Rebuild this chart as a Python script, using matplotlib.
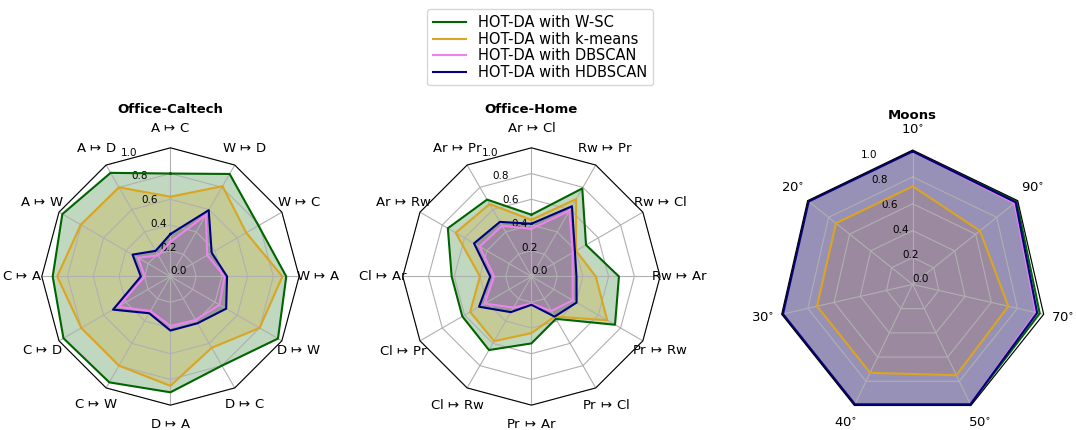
import numpy as np
import matplotlib
matplotlib.use('Agg')
import matplotlib.pyplot as plt
from matplotlib.patches import RegularPolygon
from matplotlib.path import Path
from matplotlib.projections import register_projection
from matplotlib.projections.polar import PolarAxes
from matplotlib.spines import Spine
from matplotlib.transforms import Affine2D

# --- data ---
methods = ['HOT-DA with W-SC', 'HOT-DA with k-means', 'HOT-DA with DBSCAN', 'HOT-DA with HDBSCAN']
colors = ['darkgreen', 'goldenrod', 'violet', 'navy']

M = '$\\,\\mapsto\\,$'
oc_labels = ['A' + M + 'C', 'A' + M + 'D', 'A' + M + 'W', 'C' + M + 'A', 'C' + M + 'D', 'C' + M + 'W',
             'D' + M + 'A', 'D' + M + 'C', 'D' + M + 'W', 'W' + M + 'A', 'W' + M + 'C', 'W' + M + 'D']
oc_wsc = [0.80, 0.93, 0.97, 0.915, 0.96, 0.95, 0.90, 0.80, 0.965, 0.90, 0.79, 0.92]
oc_kmeans = [0.62, 0.80, 0.805, 0.88, 0.80, 0.80, 0.85, 0.64, 0.80, 0.87, 0.68, 0.81]
oc_dbscan = [0.27, 0.19, 0.29, 0.20, 0.47, 0.31, 0.385, 0.39, 0.44, 0.42, 0.33, 0.55]
oc_hdbscan = [0.33, 0.23, 0.34, 0.23, 0.515, 0.33, 0.42, 0.42, 0.50, 0.44, 0.37, 0.595]

oh_labels = ['Ar' + M + 'Cl', 'Ar' + M + 'Pr', 'Ar' + M + 'Rw', 'Cl' + M + 'Ar', 'Cl' + M + 'Pr', 'Cl' + M + 'Rw',
             'Pr' + M + 'Ar', 'Pr' + M + 'Cl', 'Pr' + M + 'Rw', 'Rw' + M + 'Ar', 'Rw' + M + 'Cl', 'Rw' + M + 'Pr']
oh_wsc = [0.48, 0.69, 0.75, 0.62, 0.62, 0.66, 0.52, 0.38, 0.75, 0.68, 0.49, 0.79]
oh_kmeans = [0.44, 0.65, 0.68, 0.40, 0.55, 0.58, 0.44, 0.36, 0.68, 0.50, 0.40, 0.695]
oh_dbscan = [0.37, 0.455, 0.465, 0.29, 0.42, 0.28, 0.21, 0.31, 0.37, 0.32, 0.37, 0.59]
oh_hdbscan = [0.41, 0.49, 0.515, 0.32, 0.47, 0.32, 0.22, 0.36, 0.405, 0.35, 0.39, 0.63]

moons_labels = ['10$^{\\circ}$', '20$^{\\circ}$', '30$^{\\circ}$', '40$^{\\circ}$', '50$^{\\circ}$', '70$^{\\circ}$', '90$^{\\circ}$']
moons_wsc = [0.99, 0.99, 0.99, 0.99, 0.99, 0.97, 0.99]
moons_kmeans = [0.73, 0.73, 0.73, 0.73, 0.75, 0.73, 0.64]
moons_dbscan = [0.99, 0.99, 0.99, 0.99, 0.99, 0.94, 0.97]
moons_hdbscan = [0.99, 0.99, 0.99, 0.99, 0.99, 0.95, 0.98]


def radar_factory(num_vars):
    theta = np.linspace(0, 2 * np.pi, num_vars, endpoint=False)

    class RadarTransform(PolarAxes.PolarTransform):
        def transform_path_non_affine(self, path):
            if path._interpolation_steps > 1:
                path = path.interpolated(num_vars)
            return Path(self.transform(path.vertices), path.codes)

    class RadarAxes(PolarAxes):
        name = 'radar'
        PolarTransform = RadarTransform

        def __init__(self, *args, **kwargs):
            super().__init__(*args, **kwargs)
            self.set_theta_zero_location('N')

        def fill(self, *args, closed=True, **kwargs):
            return super().fill(closed=closed, *args, **kwargs)

        def plot(self, *args, **kwargs):
            lines = super().plot(*args, **kwargs)
            for line in lines:
                x, y = line.get_data()
                if x[0] != x[-1]:
                    line.set_data(np.append(x, x[0]), np.append(y, y[0]))
            return lines

        def set_varlabels(self, labels, **kw):
            self.set_thetagrids(np.degrees(theta), labels, **kw)

        def _gen_axes_patch(self):
            return RegularPolygon((0.5, 0.5), num_vars, radius=.5, edgecolor="k")

        def _gen_axes_spines(self):
            spine = Spine(axes=self, spine_type='circle',
                          path=Path.unit_regular_polygon(num_vars))
            spine.set_transform(Affine2D().scale(.5).translate(.5, .5) + self.transAxes)
            return {'polar': spine}

    register_projection(RadarAxes)
    return theta


fig = plt.figure(figsize=(10.76, 4.3), dpi=100)

panels = [
    ('Office-Caltech', oc_labels, [oc_wsc, oc_kmeans, oc_dbscan, oc_hdbscan], [0.0388, 0.0577, 0.2392, 0.5986], 25),
    ('Office-Home', oh_labels, [oh_wsc, oh_kmeans, oh_dbscan, oh_hdbscan], [0.3743, 0.0577, 0.2392, 0.5986], 25),
    ('Moons', moons_labels, [moons_wsc, moons_kmeans, moons_dbscan, moons_hdbscan], [0.7233, 0.026, 0.2498, 0.6251], 22),
]

handles = None
for title, labels, series, rect, tpad in panels:
    theta = radar_factory(len(labels))
    ax = fig.add_axes(rect, projection='radar')
    ax.set_ylim(0, 1)
    ax.set_rgrids([0.0, 0.2, 0.4, 0.6, 0.8, 1.0], fontsize=7.5)
    hs = []
    for vals, c, name in zip(series, colors, methods):
        ln = ax.plot(theta, vals, color=c, linewidth=1.5, label=name)
        ax.fill(theta, vals, facecolor=c, alpha=0.25)
        hs.append(ln[0])
    ax.set_varlabels(labels, fontsize=9.5)
    ax.set_title(title, fontweight='bold', fontsize=9.5, pad=tpad)
    if handles is None:
        handles = hs

fig.legend(handles, methods, loc='upper center', bbox_to_anchor=(0.502, 0.995), fontsize=10.5,
           handlelength=2.3, labelspacing=0.1, borderpad=0.4)

fig.savefig('out.png', dpi=100)
